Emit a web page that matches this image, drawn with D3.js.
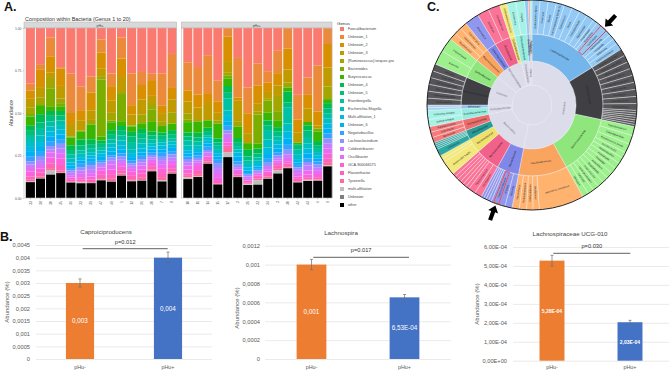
<!DOCTYPE html>
<html><head><meta charset="utf-8">
<script src="https://cdn.jsdelivr.net/npm/d3@7"></script>
<style>
html,body{margin:0;padding:0;background:#fff}
svg{display:block;font-family:"Liberation Sans",Arial,sans-serif}
</style></head><body><svg id="c" width="670" height="373"></svg>
<script>
// ---------- Panel A data ----------
const genusLabels = ["Faecalibacterium","Unknown_1","Unknown_2","Unknown_3","[Ruminococcus] torques gro","Bacteroides","Butyricicoccus","Unknown_4","Unknown_5","Eisenbergiella","Escherichia-Shigella","Multi-affiliation_1","Unknown_6","Negativibacillus","Lachnoclostridium","Colidextribacter","Oscillibacter","GCA-900066575","Flavonifractor","Tyzzerella","multi-affiliation","Unknown","other"];
const samplesMinus = ["33","38","30","35","36","33","39","47","49","5","12","26","20","7","8"];
const samplesPlus = ["10","11","14","15","17","2","21","23","24","3","30","42","43","6","9"];
const abundanceMinus = [
[33,4,5,5,4,1.5,5.5,3,3,3,3,3,3,3,2,2,2,3,2,1,.4,0,9.4],
[22,3.5,10.5,6.5,4.5,0,5.5,5,4,4,4,3,3,3,2.5,2.5,2,2.5,2.5,1,.3,0,11.8],
[5.7,11.6,9.8,3.5,6.3,11.4,2.5,3,3.5,3,3,3,3,3,2,2,3,3.5,3,1.5,2.5,0,14.3],
[25,1,11,8,3,2,3,3,3,3,3,3,3,3,3,3,3.5,4,3.5,1.5,.2,0,15.9],
[29,25,7,7,1,.5,5,3,3,2.5,2.5,2,1.5,1.5,1.5,1.5,1.5,1.5,1,.5,.2,0,9.8],
[35,14,6,6,.5,.5,4.5,3.5,3,2,2,2,2,2,2,2,2,1.5,1,.5,.6,0,8.8],
[30,10,11,6,3,0,9,3,2.5,2.5,2,2,2,2,2.5,2.5,2,2,1.5,.5,.2,0,9.2],
[7,8,10,4.5,2,35,2.5,2,2,2,2,2,2,1.5,1.5,1.5,2,2.5,2,1,.4,0,10.8],
[29,8,9,8,5,1,5,3,3,2.5,2.5,2.5,2.5,1.5,2,2.5,3,3,3,1.5,.3,0,10.4],
[6,13,11.5,10,0,17.5,3,3,3,3,3,2.5,2.5,2,2,2,2,2.5,2,1,.4,0,13.9],
[29,20,6,6,1,.5,3.5,3,4,4,3,2,2,2,1.5,1.5,2,2.5,2.5,1,.4,0,10.6],
[27,8,9,9,5.5,0,3.5,3,3,3,3,2.5,2,2,2,2,2.5,2.5,2.5,1.5,.3,0,10.6],
[29,4,10,4.5,4,8,6,2.5,2.5,2.5,2,2,2,1.5,1.5,1.5,2,2,2,1,.3,0,16.9],
[28,20,4.5,5,3,0,4,2,2,2,2,2.5,2,2.5,2,2.5,2.5,3,3,1.5,.7,0,10.2],
[16,21,7,8,7,0,4,2.5,2.5,2,2,2,2,2,2,2,2.5,2,2,1,.4,0,15]
];
const abundancePlus = [
[21.4,17.5,7,7.3,4,1.5,6.5,2.5,2.5,3,3,2,2,1.5,2,2,2.5,2.5,1.5,1,1,0,11.8],
[24,17,8,8.5,0,0,7,3,2.5,2.5,2,2,2,1.5,1.5,1.5,2,2.5,2.5,1.5,.3,0,12.9],
[16.5,23.5,5.5,10.5,0,0,4.5,2.5,2,1.5,1.5,2,2,2,1.5,1.5,1,1.5,1.5,1,.3,0,20.8],
[32,12.5,7,4.5,2,0,9,2.5,2,2.5,2,2,2,2,3,3,3,2.5,1,.5,0,0,8.2],
[.1,5.5,16,7.3,2,2,5,4,4,8,3,4,3,3,2,3,3,2,1.5,3,3,0,26.7],
[18.5,24.5,2,13,3,0,7,3,2,2,2,2.5,3,2,1.5,1.5,1.5,1.5,1,.5,.2,0,12.9],
[35.8,15.5,12,6,0,0,4,4,2.5,2,2,2,1.5,1,1,1.5,1,1,.7,.5,.5,0,7.8],
[21.8,13.8,10.8,5,2,18,3,3,2.5,2,2,1.5,1.5,1,1,1,1,1,1,1,2.8,0,8.2],
[27,7,6,4.3,1,7.5,5,3,3,6,5,4,3,2.5,2,2,1.5,1.5,1.5,1,.5,0,12],
[15,14.7,8,7,10,6,4.5,3,3,3,2.5,2.5,2.5,2,2,1.5,1.5,1.5,2,1.5,2,0,16.1],
[.1,12.5,12.8,8,3,0,2.5,6.5,3,10,5,4,4,3,3,2,2,1.5,1.5,1,.3,0,18.2],
[40.5,15,8,6,0,0,1,1,2,3,3,2,1.5,1.5,1.5,2,2,1.5,1.5,.5,.2,0,9.4],
[29.7,10.4,8.3,8,0,0,2,3,4,4,3,3,3,2,2,3,2.5,2,1,.5,.4,0,10.2],
[23.8,29.5,8.8,2,0,2,6,3,2,2,2,2,2,2,2,2,2,2,1.5,.5,.3,0,11],
[.1,9.4,14,11.2,7.5,0,2.4,3,3,3,3,3,3,3,3,3,3,3,2,2,.5,0,18.8]
];
const yTicksA = [0,.25,.5,.75,1];
const huePalette = ["#FB7A70","#EA8A3A","#D89000","#C09B00","#A3A500","#7CAE00","#39B600","#00BB4E","#00BF7D","#00C1A3","#00BFC4","#00BAE0","#00B0F6","#35A2FF","#9590FF","#C77CFF","#E76BF3","#FA62DB","#FF62BC","#FF6A98","#BEBEBE","#7F7F7F","#000000"];

// ---------- Panel B data ----------
const groups = ["pHu-","pHu+"];
const caproValues = [.003,.004], caproErr = [.00016,.00022], caproLabels = ["0,003","0,004"];
const caproTicks = [0,.0005,.001,.0015,.002,.0025,.003,.0035,.004,.0045];
const caproTickLabels = ["0","0,0005","0,001","0,0015","0,002","0,0025","0,003","0,0035","0,004","0,0045"];
const lachnoValues = [.001,.000653], lachnoErr = [.000055,.00003], lachnoLabels = ["0,001","6,53E-04"];
const lachnoTicks = [0,.0002,.0004,.0006,.0008,.001,.0012];
const lachnoTickLabels = ["0","0,0002","0,0004","0,0006","0,0008","0,001","0,0012"];
const ucgValues = [.000528,.000203], ucgErr = [.000028,.00001], ucgLabels = ["5,28E-04","2,03E-04"];
const ucgTicks = [0,.0001,.0002,.0003,.0004,.0005,.0006];
const ucgTickLabels = ["0,00E+00","1,00E-04","2,00E-04","3,00E-04","4,00E-04","5,00E-04","6,00E-04"];

// ---------- Panel C data ----------
const sunPhyla = ["Firmicutes","Bacteroidota","Actinobacteriota","Unknown","Verrucomicrobiota","Proteobacteria","Others"];
const sunFamilies = [
[0,"Lachnospiraceae"],[0,"Unknown family"],[0,"Ruminococcaceae"],[0,"Oscillospiraceae"],
[1,"Rikenellaceae"],[1,"Muribaculaceae"],[1,"Bacteroidaceae"],[1,"Marinifilaceae"],[1,"Barnesiellaceae"],
[2,"Coriobacteriaceae"],[2,"Bifidobact."],
[3,"Anaeroplasmataceae"],[3,"Sutterellaceae"],
[4,"Butyricicoccaceae"],[4,"Akkermansiaceae"],[4,"Rhizobiaceae"],[4,"Defluviitaleaceae"],
[5,"Enterobacteriaceae"],
[6,"Desulfovibrio."],[6,"Pasteur."],[6,"Acidamino."]
];
const sunGenera = [
[0,"Eubacterium eligens",4.5],[0,"Roseburia",4.5],[0,"Blautia",4.5],[0,"Lachnospiraceae NK4A136",4.5],[0,"Coprococcus",4.5],[0,"Dorea",4.5],[0,"Fusicatenibacter",4.5],[0,"Agathobacter",4.5],[0,"Anaerostipes",2.5],[0,"Butyrivibrio",2.5],[0,"Lachnospira",4],[0,"Marvinbryantia",3],[0,"Hungatella",3],[0,"Sellimonas",3],[0,"Lachnoclostridium",4],
[1,"Clostridia UCG-014",3.9],[1,"Clostridia vadinBB60",3.9],[1,"RF39 uncultured",3.9],[1,"Mollicutes RF39",3.9],[1,"Erysipelatoclostridium",3.9],[1,"Holdemanella",3.9],[1,"Turicibacter",3.9],[1,"Catenibacterium",3.9],[1,"Solobacterium",3.8],[1,"",1.3],[1,"",1.3],[1,"",1.3],[1,"",1.3],[1,"",1.3],[1,"",1.3],[1,"",1.2],
[2,"Faecalibacterium",5],[2,"Subdoligranulum",5],[2,"Ruminococcus bromii",5],[2,"Incertae Sedis",3.4],[2,"Negativibacillus",3.4],[2,"Fournierella",3.4],[2,"Gemmiger",3.4],[2,"Anaerofilum",3.4],[2,"Angelakisella",3.4],[2,"Anaerotruncus",3.4],[2,"Hydrogenoanaero.",3.4],[2,"CAG-352",3.4],[2,"UBA1819",3.4],
[3,"unknown g. uncultured",25],[3,"Oscillibacter",3.5],[3,"Colidextribacter",3.5],[3,"Ruthenibacterium",4],[3,"Flavonifractor",4],
[4,"Rikenella",4],[4,"Alistipes",3.5],[4,"Caproiciproducens",3],[4,"",1.5],[4,"",1.5],[4,"",1.5],[4,"",1.5],[4,"",1.5],
[5,"Muribaculum",4],[5,"Paramuribaculum",4],[5,"",2],[5,"",2],[5,"",2],[5,"",2],[5,"",2],[5,"",2],
[6,"Bacteroides fragilis",8],[6,"",2],[6,"",2],
[7,"Odoribacter",4],[7,"",1],[7,"",1],[7,"",1],[7,"",1],
[8,"Barnesiella",3],[8,"Coprobacter",3],[8,"Parabacteroides",3],
[9,"Slackia metabol.",4],[9,"Collinsella metabol.",5],
[10,"",1.5],[10,"",1.5],
[11,"Anaeroplasma",3.8],[11,"Rikenellaceae RC9",3.8],[11,"dgA-11 gut group",3.8],[11,"Gastranaerophilales",3.8],[11,"Vadin BE97",3.8],[11,"Victivallis",4],
[12,"Sutterella",8],[12,"Parasutterella",8],
[13,"Butyricicoccus",4],[13,"Intestinimonas",4],[13,"Eisenbergiella",4],
[14,"Akkermansia",8],
[15,"Rhizobium",6.5],[15,"Agrobacterium",6.5],
[16,"Defluviitaleaceae UCG",4],
[17,"Escherichia",5],[17,"Shigella",5],
[18,"",2],[19,"",1],[20,"",1]
];
const highlightedGenera = ["Lachnospira","Caproiciproducens"];
const sunPalette = [
["#74b5ec","#92c9f5"],["#3f3f44","#56565a"],["#8ee67d","#9cf18c"],["#f9a55f","#ffb36f"],
["#7f88e8","#8f97ef"],["#f2618a","#fb7397"],["#efe169","#f3e97a"],["#269c96","#2ea7a2"],["#ee6c6c","#f57b7b"],
["#95eee0","#a5f3e7"],["#92c0f0","#a8d0f5"],
["#3f3f44","#56565a"],["#8ee67d","#9cf18c"],
["#f9a55f","#ffb36f"],["#7f88e8","#8f97ef"],["#f2618a","#fb7397"],["#efe169","#f3e97a"],
["#95eee0","#a5f3e7"],
["#74b5ec","#92c9f5"],["#ee8c8c","#fba0a0"],["#95eee0","#a5f3e7"]
];

// ---------- Drawing ----------
const svg = d3.select("#c");
const FONT_GREY = "#595959";

// Panel letters
[["A.",4,11],["B.",0,241],["C.",427,11]].forEach(([t,x,y]) =>
  svg.append("text").attr("x",x).attr("y",y).attr("font-size",12.5).attr("font-weight","bold").attr("fill","#111").text(t));

// ----- Panel A -----
const gA = svg.append("g");
const yA = d3.scaleLinear().domain([0,1]).range([198,28]);
gA.append("text").attr("x",25).attr("y",20.5).attr("font-size",5.4).attr("fill","#333").text("Composition within Bacteria (Genus 1 to 20)");
gA.append("text").attr("transform","translate(13,113) rotate(-90)").attr("text-anchor","middle").attr("font-size",5.2).attr("fill","#444").text("Abundance");

function facet(name, samples, matrix, x0, x1, showY){
  const keys = genusLabels.map((_,i)=>i);
  const rows = matrix.map(r=>Object.assign({},r));
  const series = d3.stack().keys(keys).order(d3.stackOrderNone).offset(d3.stackOffsetExpand)(rows);
  const x = d3.scaleBand().domain(samples.map((s,i)=>i)).range([x0+1.5,x1+.5]).paddingInner(.1).paddingOuter(.03);
  const g = gA.append("g");
  g.append("rect").attr("x",x0).attr("y",22).attr("width",x1-x0).attr("height",6).attr("fill","#d9d9d9").attr("stroke","#b8b8b8").attr("stroke-width",.6);
  g.append("text").attr("x",(x0+x1)/2).attr("y",26.8).attr("text-anchor","middle").attr("font-size",3.4).attr("fill","#444").text(name);
  // Stack drawn so that series 0 is on top
  series.forEach((s,k)=>{
    g.selectAll(null).data(s).join("rect")
      .attr("x",(d,i)=>x(i)).attr("width",x.bandwidth())
      .attr("y",d=>yA(1-d[0])).attr("height",d=>yA(1-d[1])-yA(1-d[0]))
      .attr("fill",huePalette[k]);
  });
  g.append("rect").attr("x",x0).attr("y",28).attr("width",x1-x0).attr("height",170).attr("fill","none").attr("stroke","#bdbdbd").attr("stroke-width",.6);
  const ax = d3.axisBottom(x).tickSize(1.5).tickFormat(i=>samples[i]);
  const gx = g.append("g").attr("transform","translate(0,198)").call(ax);
  gx.select(".domain").remove();
  gx.selectAll("line").attr("stroke","#999").attr("stroke-width",.4);
  gx.selectAll("text").attr("font-size",3.4).attr("fill",FONT_GREY).attr("font-family","Liberation Sans")
    .attr("transform","rotate(-90)").attr("text-anchor","end").attr("x",-3).attr("y",0).attr("dy","0.35em");
  if(showY){
    const ay = d3.axisLeft(yA).tickValues(yTicksA).tickFormat(d3.format(".2f")).tickSize(1.5).tickPadding(1);
    const gy = g.append("g").attr("transform",`translate(${x0},0)`).call(ay);
    gy.select(".domain").remove();
    gy.selectAll("line").attr("stroke","#999").attr("stroke-width",.4);
    gy.selectAll("text").attr("font-size",3.4).attr("fill",FONT_GREY).attr("font-family","Liberation Sans");
  }
}
facet("pHu-",samplesMinus,abundanceMinus,24,176.5,true);
facet("pHu+",samplesPlus,abundancePlus,181.5,332,false);

// legend
const gL = gA.append("g");
gL.append("text").attr("x",337).attr("y",25).attr("font-size",4.4).attr("fill","#333").text("Genus");
const yLegend = d3.scalePoint().domain(genusLabels.map((d,i)=>i)).range([29,205]);
genusLabels.forEach((t,i)=>{
  gL.append("rect").attr("x",340).attr("y",yLegend(i)-2).attr("width",4).attr("height",4).attr("fill",huePalette[i]);
  gL.append("text").attr("x",348).attr("y",yLegend(i)+1.3).attr("font-size",3.7).attr("fill","#444").text(t);
});

// ----- Panel B -----
function barChart(o){
  const g = svg.append("g");
  const x = d3.scaleBand().domain(groups).range([o.x0,o.x1]).padding(.68);
  x.paddingOuter(.34).paddingInner(.68);
  const y = d3.scaleLinear().domain(o.domain).range([o.yBase,o.yTop]);
  g.append("text").attr("x",o.titleX).attr("y",o.titleY).attr("text-anchor","middle").attr("font-size",6.2).attr("fill","#444").text(o.title);
  const ay = d3.axisLeft(y).tickValues(o.ticks).tickFormat((d,i)=>o.tickLabels[i]).tickSize(-(o.x1-o.x0)).tickPadding(o.pad);
  const gy = g.append("g").attr("transform",`translate(${o.x0},0)`).call(ay);
  gy.select(".domain").remove();
  gy.selectAll("line").attr("stroke","#e4e4e4").attr("stroke-width",.8);
  gy.selectAll("text").attr("font-size",5.7).attr("fill",FONT_GREY).attr("font-family","Liberation Sans");
  const colors = ["#ED7D31","#4472C4"];
  g.selectAll(null).data(o.values).join("rect")
    .attr("x",(d,i)=>x(groups[i])).attr("width",x.bandwidth())
    .attr("y",d=>y(d)).attr("height",d=>y(0)-y(d)).attr("fill",(d,i)=>colors[i]);
  o.errors.forEach((e,i)=>{
    const cx = x(groups[i])+x.bandwidth()/2, v=o.values[i];
    g.append("path").attr("d",`M${cx-1.5},${y(v+e)}H${cx+1.5}M${cx},${y(v+e)}V${y(v-e)}M${cx-1.5},${y(v-e)}H${cx+1.5}`)
      .attr("stroke","#6f6f6f").attr("stroke-width",.7).attr("fill","none");
    g.append("text").attr("x",cx).attr("y",y(v/2)+2.2).attr("text-anchor","middle")
      .attr("font-size",o.labelSize).attr("font-weight",o.labelWeight).attr("fill","#fff").text(o.labels[i]);
    g.append("text").attr("x",cx).attr("y",368.5+o.xLabelDy).attr("text-anchor","middle").attr("font-size",5.4).attr("fill",FONT_GREY).text(groups[i]);
  });
  const v0 = x(groups[0]) + x.bandwidth()/2 + o.sigLeft, v1 = x(groups[1]) + x.bandwidth()/2 + o.sigRight;
  g.append("line").attr("x1",v0).attr("x2",v1).attr("y1",o.sigY).attr("y2",o.sigY).attr("stroke","#808080").attr("stroke-width",1.2);
  g.append("text").attr("x",(v0+v1)/2).attr("y",o.sigY-5).attr("text-anchor","middle").attr("font-size",5.7).attr("fill","#333").text(o.p);
  g.append("text").attr("transform",`translate(${o.yLabelX},${o.yLabelY}) rotate(-90)`).attr("text-anchor","middle").attr("font-size",6).attr("fill",FONT_GREY).text("Abundance (%)");
}
barChart({title:"Caproiciproducens",titleX:106,titleY:233.5,x0:36,x1:212,domain:[0,.0045],yBase:359,yTop:245,ticks:caproTicks,tickLabels:caproTickLabels,pad:6,values:caproValues,errors:caproErr,labels:caproLabels,labelSize:6.3,labelWeight:"normal",sigLeft:2.7,sigRight:-.3,sigY:248.7,p:"p=0.012",yLabelX:9,yLabelY:302,xLabelDy:.5});
barChart({title:"Lachnospira",titleX:341,titleY:235,x0:265,x1:451,domain:[0,.0012],yBase:359,yTop:245.7,ticks:lachnoTicks,tickLabels:lachnoTickLabels,pad:5,values:lachnoValues,errors:lachnoErr,labels:lachnoLabels,labelSize:6.3,labelWeight:"normal",sigLeft:1.8,sigRight:4.5,sigY:257.3,p:"p=0.017",yLabelX:239,yLabelY:308,xLabelDy:.5});
barChart({title:"Lachnospiraceae UCG-010",titleX:570,titleY:236,x0:513,x1:669,domain:[0,.0006],yBase:360.7,yTop:247,ticks:ucgTicks,tickLabels:ucgTickLabels,pad:6,values:ucgValues,errors:ucgErr,labels:ucgLabels,labelSize:5,labelWeight:"bold",sigLeft:1.3,sigRight:.3,sigY:253.3,p:"p=0.030",yLabelX:479,yLabelY:304,xLabelDy:.5});

// ----- Panel C -----
const gC = svg.append("g").attr("transform","translate(532,105)");
const tree = {name:"Bacteria",children:sunPhyla.map((p,pi)=>({
  name:p,children:sunFamilies.map((f,fi)=>({f,fi})).filter(e=>e.f[0]===pi).map(e=>({
    name:e.f[1],fi:e.fi,children:sunGenera.filter(g=>g[0]===e.fi).map(g=>({name:g[1],fi:e.fi,value:g[2]}))
  }))
}))};
const root = d3.partition().size([2*Math.PI,1])(d3.hierarchy(tree).sum(d=>d.value||0));
const radii = [0,20,44,71,105];
const arc = d3.arc().startAngle(d=>d.x0).endAngle(d=>d.x1).innerRadius(d=>radii[d.depth]).outerRadius(d=>radii[d.depth+1]);
const fillFor = d => d.depth<2 ? "#dcdcea" : sunPalette[d.data.fi][d.depth-2];
gC.selectAll(null).data(root.descendants()).join("path").attr("d",arc).attr("fill",fillFor)
  .attr("stroke",d=>d.depth===3?"#f2f2f2":"#eeeef6").attr("stroke-width",d=>d.depth===3?.4:.4);
gC.selectAll(null).data(root.descendants().filter(d=>d.depth>0&&d.data.name)).join("text")
  .attr("font-size",d=>d.depth===3?2.5:2.8)
  .attr("fill",d=>d.depth===1?"#66666e":"#26262a").attr("text-anchor","middle").attr("dy","0.35em")
  .attr("transform",d=>{
    const m=(d.x0+d.x1)/2, deg=m*180/Math.PI, rm=(radii[d.depth]+radii[d.depth+1])/2;
    const arcLen=(d.x1-d.x0)*rm, depthLen=radii[d.depth+1]-radii[d.depth];
    if(arcLen>depthLen){ const flip=Math.cos(m)<0; return `rotate(${deg}) translate(0,${-rm})${flip?" rotate(180)":""}`; }
    const flip=m>Math.PI; return `rotate(${deg-90}) translate(${rm},0)${flip?" rotate(180)":""}`;
  }).text(d=>d.data.name);
gC.append("circle").attr("r",105).attr("fill","none").attr("stroke","#111").attr("stroke-width",.9);
const hl = root.leaves().filter(d=>highlightedGenera.includes(d.data.name));
gC.selectAll(null).data(hl).join("path").attr("d",arc).attr("fill","none").attr("stroke","#e0282e").attr("stroke-width",.8);
gC.selectAll(null).data(hl).join("path")
  .attr("d","M0,-107L5.2,-113.5L2.1,-113.5L2.1,-122.5L-2.1,-122.5L-2.1,-113.5L-5.2,-113.5Z")
  .attr("transform",d=>`rotate(${(d.x0+d.x1)/2*180/Math.PI})`).attr("fill","#000");
</script></body></html>
